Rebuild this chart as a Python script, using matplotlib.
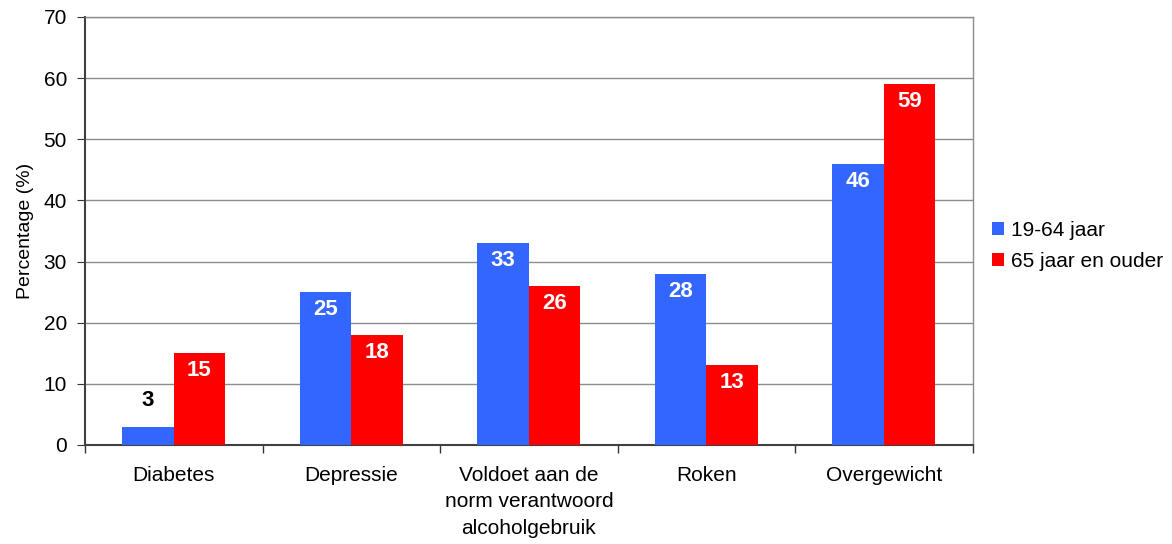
import numpy as np
import matplotlib.pyplot as plt

categories = ["Diabetes", "Depressie", "Voldoet aan de\nnorm verantwoord\nalcoholgebruik", "Roken", "Overgewicht"]
jong = [3, 25, 33, 28, 46]
oud = [15, 18, 26, 13, 59]
series_names = ["19-64 jaar", "65 jaar en ouder"]

plt.rcParams['font.family'] = ['Liberation Sans', 'DejaVu Sans']

fig = plt.figure(figsize=(11.72, 5.44), dpi=100)
ax = fig.add_axes([0.0725, 0.182, 0.7575, 0.787])

x = np.arange(len(categories))
w = 0.29
b1 = ax.bar(x - w / 2, jong, w, color='#3366ff', label=series_names[0], zorder=3)
b2 = ax.bar(x + w / 2, oud, w, color='#ff0000', label=series_names[1], zorder=3)

# waarden in de staven, of erboven als de staaf te laag is
for bars in (b1, b2):
    for bar in bars:
        v = bar.get_height()
        cx = bar.get_x() + bar.get_width() / 2
        if v < 6:
            ax.annotate(f"{v:g}", (cx, v), xytext=(0, 19), textcoords='offset points',
                        ha='center', va='center', fontsize=16, fontweight='bold', color='black')
        else:
            ax.annotate(f"{v:g}", (cx, v), xytext=(0, -12.5), textcoords='offset points',
                        ha='center', va='center', fontsize=16, fontweight='bold', color='white')

ax.set_xlim(-0.5, len(categories) - 0.5)
ax.set_ylim(0, 70)
ax.set_yticks(range(0, 71, 10))
ax.yaxis.grid(True, color='#8c8c8c', linewidth=1, zorder=0)
ax.set_axisbelow(True)

ax.set_xticks(x)
ax.set_xticklabels(categories, fontsize=15, linespacing=1.5)
ax.tick_params(axis='x', length=0, pad=15)
ax.set_xticks(np.arange(len(categories) + 1) - 0.5, minor=True)
ax.tick_params(axis='x', which='minor', length=6, width=1, color='#333333')
ax.tick_params(axis='y', labelsize=15, length=6, pad=7, color='#333333')
ax.set_ylabel("Percentage (%)", fontsize=14, labelpad=7)

for side in ('left', 'bottom'):
    ax.spines[side].set_color('#404040')
    ax.spines[side].set_linewidth(1.5)
for side in ('top', 'right'):
    ax.spines[side].set_color('#8c8c8c')
    ax.spines[side].set_linewidth(1)

ax.legend(loc='center left', bbox_to_anchor=(1.0, 0.465), frameon=False, fontsize=15,
          handlelength=0.6, handleheight=0.6, handletextpad=0.35, labelspacing=0.6)

fig.savefig("out.png", dpi=100)
